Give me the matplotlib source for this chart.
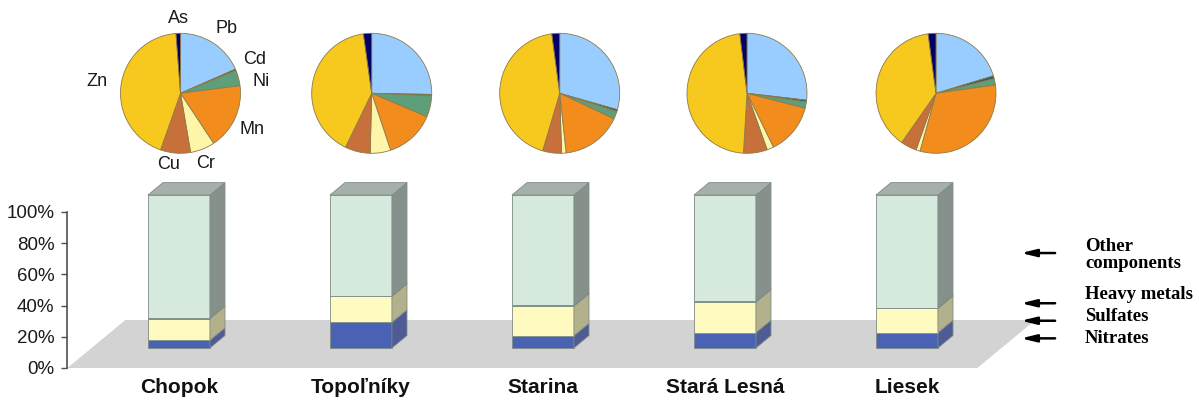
import matplotlib.pyplot as plt
from matplotlib.patches import Polygon

plt.rcParams['font.family'] = ['Liberation Sans', 'DejaVu Sans']

# --- bar data: share of total mass (%) ---
sites = ['Chopok', 'Topoľníky', 'Starina', 'Stará Lesná', 'Liesek']
nitrates = [5.0, 16.8, 8.0, 10.0, 10.0]
sulfates = [14.2, 17.0, 19.4, 20.1, 15.9]
heavy_metals = [0.4, 0.4, 0.4, 0.4, 0.4]
other = [100 - n - s - h for n, s, h in zip(nitrates, sulfates, heavy_metals)]

# --- pie data: heavy metal composition (%) ---
metals = ['Pb', 'Cd', 'Ni', 'Mn', 'Cr', 'Cu', 'Zn', 'As']
chopok_metals = [18.4, 0.4, 4.2, 17.7, 6.6, 8.1, 43.4, 1.2]
topolniky_metals = [25.3, 0.4, 5.7, 13.5, 5.5, 6.8, 40.6, 2.2]
starina_metals = [29.4, 0.5, 2.1, 16.3, 1.2, 5.1, 43.3, 2.1]
stara_lesna_metals = [26.8, 0.5, 1.7, 13.7, 1.8, 6.4, 47.1, 1.9]
liesek_metals = [20.3, 0.8, 1.7, 31.5, 1.1, 4.3, 38.2, 2.1]
pies = [chopok_metals, topolniky_metals, starina_metals, stara_lesna_metals, liesek_metals]

metal_colors = ['#99CCFF', '#2F5F5F', '#5F9E7A', '#F28C1C',
                '#FFF5A8', '#C8703A', '#F7C81E', '#000066']

# layer styling, bottom to top: (values, front, side)
layers = [
    (nitrates, '#4A62B4', '#4F5B94'),
    (sulfates, '#FFFAC0', '#B3B08C'),
    (heavy_metals, '#A9B5AA', '#8E958A'),
    (other, '#D5E9DD', '#86918B'),
]
top_color = '#A6B0AA'
edge = '#7E8C85'

W, H = 1199, 400
fig = plt.figure(figsize=(W / 100, H / 100), dpi=100)

# main (bar) axes: 1 category = 182 px, 1 % = 1.56 px
px_unit = 182.0
ax = fig.add_axes([67 / W, 32 / H, 1132 / W, 156 / H])
x_left = -0.482
ax.set_xlim(x_left, x_left + 1132 / px_unit)
ax.set_ylim(0, 100)

# oblique depth vector of the floor
DX = 58 / px_unit
DY = 48 / 1.56
F, B = 0.417, 0.677   # depth of bar front / back face
bw = 62 / px_unit
vscale = 0.98         # slight foreshortening of the bars

floor_l, floor_r = -0.48, 4.52
ax.add_patch(Polygon([(floor_l, 0), (floor_r, 0), (floor_r + DX, DY), (floor_l + DX, DY)],
                     closed=True, fc='#D3D3D3', ec='none', zorder=1, clip_on=False))

for i in range(len(sites)):
    x0 = i + F * DX - bw / 2
    x1 = x0 + bw
    sx = (B - F) * DX
    sy = (B - F) * DY
    base = F * DY
    bottom = 0.0
    for vals, fc, sc in layers:
        h = vals[i] * vscale
        yb, yt = base + bottom, base + bottom + h
        ax.add_patch(Polygon([(x0, yb), (x1, yb), (x1, yt), (x0, yt)], closed=True,
                             fc=fc, ec=edge, lw=0.6, zorder=3, clip_on=False))
        ax.add_patch(Polygon([(x1, yb), (x1 + sx, yb + sy), (x1 + sx, yt + sy), (x1, yt)],
                             closed=True, fc=sc, ec=edge, lw=0.6, zorder=3, clip_on=False))
        bottom += h
    yt = base + bottom
    ax.add_patch(Polygon([(x0, yt), (x1, yt), (x1 + sx, yt + sy), (x0 + sx, yt + sy)],
                         closed=True, fc=top_color, ec=edge, lw=0.6, zorder=3, clip_on=False))

for s in ['top', 'right', 'bottom']:
    ax.spines[s].set_visible(False)
ax.spines['left'].set_color('#505050')
ax.spines['left'].set_linewidth(1.2)
ax.set_yticks(range(0, 101, 20))
ax.set_yticklabels([f'{v}%' for v in range(0, 101, 20)], fontsize=13.5, color='#1A1A1A')
ax.tick_params(axis='y', direction='out', length=4, width=1, color='#505050', pad=5)
ax.set_xticks([i + F * DX for i in range(len(sites))])
ax.set_xticklabels(sites, fontsize=15, fontweight='bold', color='#111111')
ax.tick_params(axis='x', length=0, pad=7)
ax.set_facecolor('none')

# legend: arrows pointing at the layers
legend_labels = ['Other\ncomponents', 'Heavy metals', 'Sulfates', 'Nitrates']
arrow_y = [73.7, 41.5, 30.3, 19.0]
text_y = [72.4, 46.8, 32.9, 19.0]
for lab, ay, ty in zip(legend_labels, arrow_y, text_y):
    ax.annotate('', xy=(4.760, ay), xytext=(4.947, ay),
                arrowprops=dict(arrowstyle='-|>,head_length=0.9,head_width=0.22',
                                color='black', lw=1.8, shrinkA=0, shrinkB=0),
                annotation_clip=False)
    ax.text(5.111, ty, lab, fontsize=13.5, fontweight='bold', va='center', ha='left',
            family=['Liberation Serif', 'DejaVu Serif'], linespacing=1.05)

# pies above the bars
pie_cx = [180.5, 371.7, 559.7, 747.0, 936.0]
pie_cy = 93.3
r = 60
for k, (cx, vals) in enumerate(zip(pie_cx, pies)):
    pax = fig.add_axes([(cx - r) / W, (H - pie_cy - r) / H, 2 * r / W, 2 * r / H])
    pax.pie(vals, colors=metal_colors, startangle=90, counterclock=False,
            wedgeprops=dict(edgecolor='#8C7A4A', linewidth=0.6))
    pax.set_xlim(-1, 1)
    pax.set_ylim(-1, 1)
    pax.set_aspect('equal')
    if k == 0:
        label_pos = [(0.77, 1.08), (1.23, 0.56), (1.35, 0.20), (1.19, -0.61),
                     (0.41, -1.17), (-0.20, -1.18), (-1.40, 0.19), (-0.04, 1.25)]
        for name, (lx, ly) in zip(metals, label_pos):
            pax.text(lx, ly, name, fontsize=13, ha='center', va='center',
                     color='#1A1A1A', clip_on=False)

fig.savefig('out.png', dpi=100, facecolor='white')
